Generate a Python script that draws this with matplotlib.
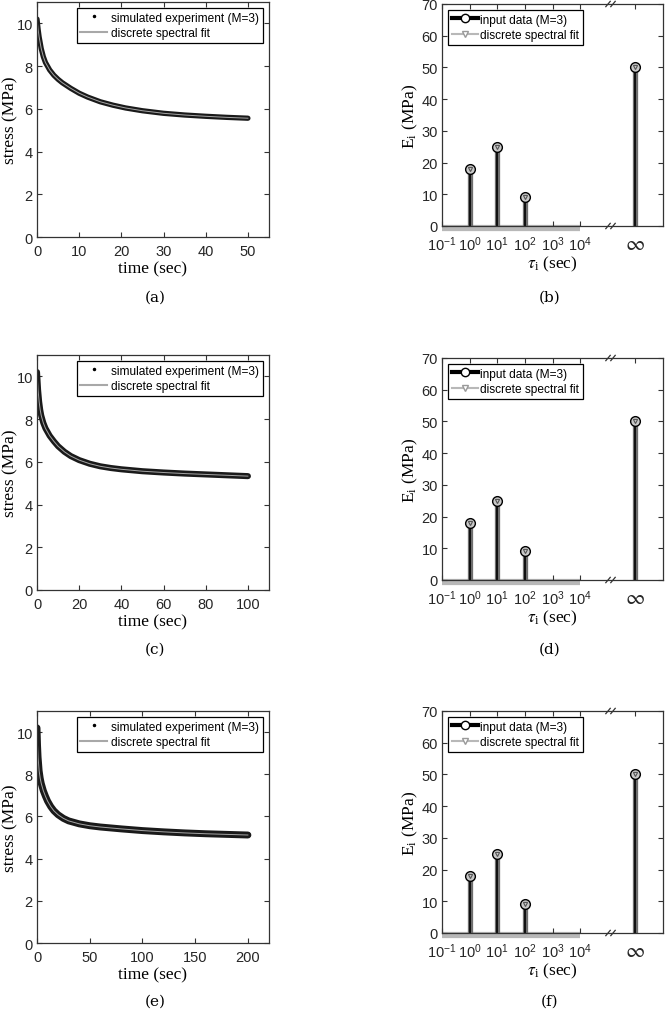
import matplotlib
matplotlib.use('Agg')
import matplotlib.pyplot as plt
from matplotlib.lines import Line2D
import matplotlib.transforms as mtransforms

plt.rcParams['font.family'] = ['Liberation Sans', 'DejaVu Sans']
plt.rcParams['mathtext.fontset'] = 'stix'

# stress relaxation curves
t_a = [0, 0.25, 0.5, 1, 1.5, 2, 3, 4, 5, 6, 8, 10, 12, 15, 18, 21, 25, 30, 35, 40, 45, 50]
s_a = [10.2, 9.74, 9.37, 8.82, 8.44, 8.17, 7.82, 7.57, 7.38, 7.22, 6.96, 6.73, 6.55, 6.33,
       6.17, 6.04, 5.91, 5.79, 5.71, 5.65, 5.60, 5.56]
t_c = [0, 0.5, 1, 1.5, 2, 3, 4, 6, 8, 10, 13, 16, 20, 25, 30, 35, 40, 50, 60, 70, 80, 90, 100]
s_c = [10.2, 9.37, 8.82, 8.44, 8.17, 7.82, 7.57, 7.22, 6.96, 6.73, 6.47, 6.27, 6.08, 5.91,
       5.79, 5.71, 5.65, 5.56, 5.50, 5.45, 5.41, 5.37, 5.33]
t_e = [0, 0.5, 1, 2, 3, 4, 6, 8, 10, 13, 16, 20, 25, 30, 40, 50, 60, 80, 100, 120, 140, 160, 180, 200]
s_e = [10.2, 9.37, 8.82, 8.17, 7.82, 7.57, 7.22, 6.96, 6.73, 6.47, 6.27, 6.08, 5.91, 5.79,
       5.65, 5.56, 5.50, 5.41, 5.33, 5.27, 5.22, 5.18, 5.15, 5.12]

# discrete spectrum (right panels); tau = inf drawn at its own slot
log_tau = [0, 1, 2]
E_i = [18, 25, 9]
E_inf = 50
tau_ticks = [-1, 0, 1, 2, 3, 4]
tau_labels = ['$\\mathregular{10^{-1}}$', '$\\mathregular{10^{0}}$', '$\\mathregular{10^{1}}$',
              '$\\mathregular{10^{2}}$', '$\\mathregular{10^{3}}$', '$\\mathregular{10^{4}}$']
INF_POS = 6
BREAK_POS = 5.1

left_sets = [(t_a, s_a, [0, 10, 20, 30, 40, 50], 55, '(a)'),
             (t_c, s_c, [0, 20, 40, 60, 80, 100], 110, '(c)'),
             (t_e, s_e, [0, 50, 100, 150, 200], 220, '(e)')]
right_caps = ['(b)', '(d)', '(f)']

W, H = 665, 1020
fig = plt.figure(figsize=(W / 100, H / 100), dpi=100)

left_box = [(3, 238), (356, 591), (712, 944)]
right_box = [(5, 227), (359, 581), (712, 934)]
cap_y = [298, 650, 1002]

spine_c = '#333333'
tick_c = '#262626'


def style(ax):
    for sp in ax.spines.values():
        sp.set_color(spine_c)
        sp.set_linewidth(0.9)
    ax.tick_params(direction='in', top=True, right=True, length=3.5, width=0.8,
                   colors=spine_c, labelcolor=tick_c, labelsize=10.5)
    ax.tick_params(axis='x', pad=5)
    ax.tick_params(axis='y', pad=3)


for k, (tt, ss, xt, xmax, cap) in enumerate(left_sets):
    top, bot = left_box[k]
    ax = fig.add_axes([37 / W, 1 - bot / H, (269 - 37) / W, (bot - top) / H])
    ax.plot(tt, ss, color='#1a1a1a', lw=3.8 + 0.6 * k, solid_capstyle='round')
    ax.plot(tt, ss, color='#a6a6a6', lw=0.7)
    ax.set_xlim(0, xmax)
    ax.set_ylim(0, 11)
    ax.set_xticks(xt)
    ax.set_yticks([0, 2, 4, 6, 8, 10])
    style(ax)
    ax.set_xlabel('time (sec)', family='Liberation Serif', fontsize=12.5, labelpad=2)
    ax.set_ylabel('stress (MPa)', family='Liberation Serif', fontsize=12.5)
    ax.yaxis.set_label_coords(-0.082, 0.5)
    handles = [Line2D([], [], ls='none', marker='.', ms=3, color='black'),
               Line2D([], [], color='#a8a8a8', lw=1.5)]
    leg = ax.legend(handles, ['simulated experiment (M=3)', 'discrete spectral fit'],
                    loc='upper right', fontsize=8.6, fancybox=False, framealpha=1,
                    borderpad=0.3, labelspacing=0.3, handlelength=2.2, handletextpad=0.4,
                    borderaxespad=0.5)
    leg.get_frame().set_edgecolor('black')
    leg.get_frame().set_linewidth(0.9)
    fig.text(155 / W, 1 - cap_y[k] / H, cap, ha='center', va='center',
             family='DejaVu Serif', fontsize=11)

for k in range(3):
    top, bot = right_box[k]
    ax = fig.add_axes([442 / W, 1 - bot / H, (663 - 442) / W, (bot - top) / H])
    xs = log_tau + [INF_POS]
    ys = E_i + [E_inf]
    # fit stems (gray) under the input stems (black)
    ax.vlines(xs, 0, ys, color='#6e6e6e', lw=3.8)
    ax.vlines(xs, 0, ys, color='black', lw=1.2)
    ax.plot([-1, 4], [-0.5, -0.5], color='#b8b8b8', lw=4.5, clip_on=False, zorder=1,
            solid_capstyle='butt')
    ax.plot(xs, ys, ls='none', marker='o', ms=7, mfc='#c8c8c8', mec='black', mew=1.0)
    ax.plot(xs, ys, ls='none', marker='v', ms=3, mfc='none', mec='#555555', mew=0.8)
    ax.set_xlim(-1, 7)
    ax.set_ylim(0, 70)
    ax.set_xticks(tau_ticks + [INF_POS])
    ax.set_xticklabels(tau_labels + ['$\\infty$'])
    ax.set_yticks(range(0, 71, 10))
    style(ax)
    ax.tick_params(axis='x', pad=6)
    ax.get_xticklabels()[-1].set_fontsize(15)
    ax.set_xlabel('$\\tau_\\mathregular{i}$ (sec)', family='Liberation Serif', fontsize=12.5,
                  labelpad=0)
    ax.set_ylabel('E$_\\mathregular{i}$ (MPa)', family='Liberation Serif', fontsize=12.5,
                  labelpad=1)
    # axis break marks
    trans = mtransforms.blended_transform_factory(ax.transData, ax.transAxes)
    for yb in (0, 1):
        for dx in (-0.09, 0.09):
            ax.plot([BREAK_POS + dx - 0.08, BREAK_POS + dx + 0.08], [yb - 0.012, yb + 0.012],
                    color=spine_c, lw=0.9, transform=trans, clip_on=False)
    handles = [Line2D([], [], color='black', lw=3, marker='o', ms=6, mfc='white',
                      mec='black', markevery=[1]),
               Line2D([], [], color='#b8b8b8', lw=1.5, marker='v', ms=5, mfc='white',
                      mec='#999999', markevery=[1])]
    leg = ax.legend(handles, ['input data (M=3)', 'discrete spectral fit'],
                    loc='upper left', fontsize=8.6, fancybox=False, framealpha=1,
                    borderpad=0.3, labelspacing=0.3, handlelength=2.2, handletextpad=0.2,
                    borderaxespad=0.5)
    leg.get_frame().set_edgecolor('black')
    leg.get_frame().set_linewidth(0.9)
    fig.text(550 / W, 1 - cap_y[k] / H, right_caps[k], ha='center', va='center',
             family='DejaVu Serif', fontsize=11)

fig.savefig('out.png', dpi=100)
